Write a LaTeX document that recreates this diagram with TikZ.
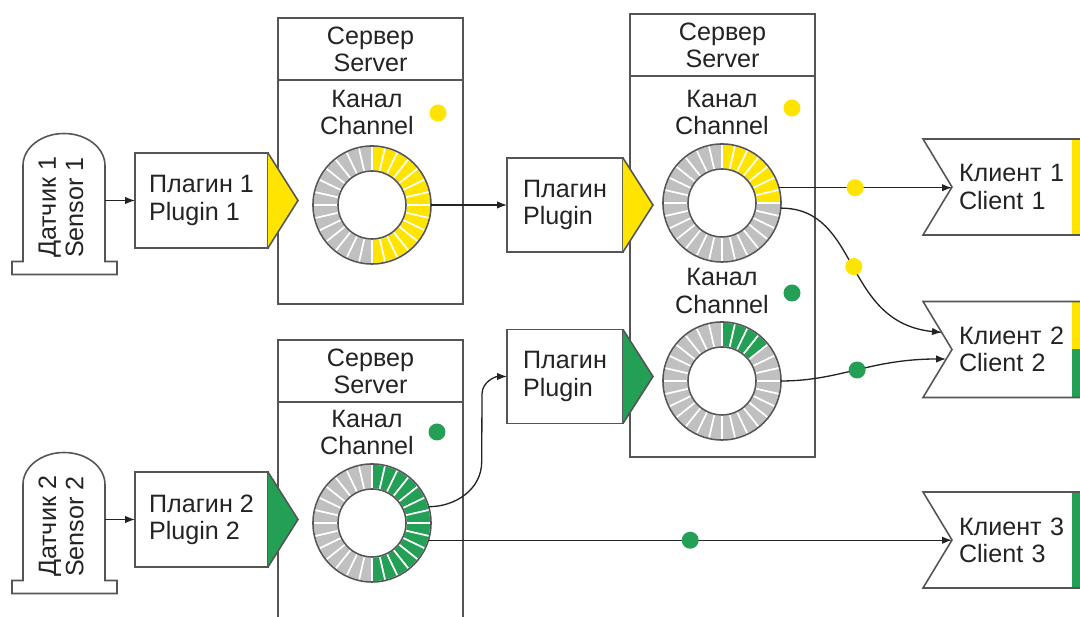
\documentclass[tikz,border=0pt]{standalone}
\usepackage{fontspec}
\setmainfont{Liberation Sans}
\usetikzlibrary{arrows.meta, positioning}

\definecolor{yelw}{RGB}{255,228,0}
\definecolor{grn}{RGB}{35,160,85}
\definecolor{slot}{RGB}{192,192,192}
\definecolor{edge}{RGB}{85,85,85}
\definecolor{ink}{RGB}{35,35,35}

\tikzset{
	outline/.style={draw=edge, line width=0.9pt},
	box/.style={outline, fill=white, rectangle, inner sep=0pt, outer sep=0pt},
	sensor/.style={rectangle, minimum width=1.64cm, minimum height=1.92cm, inner sep=0pt, outer sep=0pt},
	plugin/.style={box, minimum width=2.66cm, minimum height=1.9cm, align=left},
	server/.style={box, minimum width=3.7cm},
	head/.style={box, minimum width=3.7cm, minimum height=1.24cm, align=center},
	chan/.style={align=center, inner sep=0pt},
	ring/.style={circle, minimum size=2.36cm, inner sep=0pt, outer sep=0pt},
	led/.style={circle, inner sep=0pt, minimum size=0.34cm},
	client/.style={rectangle, minimum height=1.92cm, text width=2.68cm, inner xsep=0.14cm, inner ysep=0pt, outer sep=0pt, align=left},
	wire/.style={draw=ink, line width=0.75pt, -{Latex[length=0.2cm, width=0.15cm]}},
}

% ring buffer of 28 slots, the first #2 (clockwise from the top) are filled
\newcommand{\ringbuf}[3]{%
	\foreach \i in {0,...,27} {
		\pgfmathsetmacro{\angA}{90-\i*360/28}
		\pgfmathsetmacro{\angB}{\angA-360/28}
		\ifnum\i<#2 \def\slotcol{#3}\else\def\slotcol{slot}\fi
		\fill[fill=\slotcol, draw=white, line width=0.9pt]
			([shift={(\angA:59)}]#1.center) arc[start angle=\angA, end angle=\angB, radius=59]
			-- ([shift={(\angB:34)}]#1.center) arc[start angle=\angB, end angle=\angA, radius=34] -- cycle;
	}
	\draw[outline] (#1.center) circle[radius=59] (#1.center) circle[radius=34];
}

% tombstone outline round a sensor body
\newcommand{\sensorshape}[1]{%
	\draw[outline] (#1.south west) -- ++(-11,0) -- ++(0,-13) -- ++(105,0) -- ++(0,13) -- (#1.south east)
		-- (#1.north east) arc[start angle=0, end angle=180, x radius=41, y radius=32] -- cycle;
}

% coloured output flag on the right of a plugin
\newcommand{\pluginflag}[2]{%
	\filldraw[outline, fill=#2] (#1.north east) -- ([xshift=0.6cm]#1.east) -- (#1.south east);
}

\begin{document}
\begin{tikzpicture}[x=0.02cm, y=0.02cm, font=\fontsize{14.3}{15.5}\selectfont, text=ink]
	\useasboundingbox (0,0) rectangle (1080,617);
	\clip (0,0) rectangle (1080,617);

	% servers
	\node[server, minimum height=5.72cm] (srv1) at (370.5,456) {};
	\node[server, minimum height=5.94cm] (srv2) at (370.5,128.5) {};
	\node[server, minimum height=8.86cm] (srv3) at (722.5,381.5) {};
	\node[head, below=0pt of srv1.north] (head1) {Сервер\\Server};
	\node[head, below=0pt of srv2.north] (head2) {Сервер\\Server};
	\node[head, below=0pt of srv3.north] (head3) {Сервер\\Server};

	\node[chan] (chan1) at (367,504.5) {Канал\\Channel};
	\node[chan] (chan2) at (367,184.5) {Канал\\Channel};
	\node[chan] (chan3) at (722,504.5) {Канал\\Channel};
	\node[chan] (chan4) at (722,326) {Канал\\Channel};
	\node[led, fill=yelw] (led1) at (438,504) {};
	\node[led, fill=grn] (led2) at (437,185) {};
	\node[led, fill=yelw] (led3) at (792,509) {};
	\node[led, fill=grn] (led4) at (792,324) {};

	\node[ring] (ring1) at (372,412) {};
	\node[ring] (ring2) at (372,94) {};
	\node[ring] (ring3) at (722,414) {};
	\node[ring] (ring4) at (722,236) {};
	\ringbuf{ring1}{14}{yelw}
	\ringbuf{ring2}{14}{grn}
	\ringbuf{ring3}{7}{yelw}
	\ringbuf{ring4}{4}{grn}

	% sensors
	\node[sensor] (sensor1) at (64,403.5) {};
	\node[sensor] (sensor2) at (64,84.5) {};
	\sensorshape{sensor1}
	\sensorshape{sensor2}
	\node[rotate=90, align=left] (stxt1) at ([shift={(-3,6)}]sensor1.center) {Датчик 1\\Sensor 1};
	\node[rotate=90, align=left] (stxt2) at ([shift={(-3,6)}]sensor2.center) {Датчик 2\\Sensor 2};

	% plugins
	\node[plugin] (plugin1) at (201.5,416.5) {Плагин 1\\Plugin 1};
	\node[plugin] (plugin2) at (201.5,97.5) {Плагин 2\\Plugin 2};
	\node[plugin, minimum width=2.32cm, minimum height=1.88cm] (plugin3) at (565,412) {Плагин\\Plugin};
	\node[plugin, minimum width=2.32cm, minimum height=1.88cm] (plugin4) at (565,240.5) {Плагин\\Plugin};
	\pluginflag{plugin1}{yelw}
	\pluginflag{plugin2}{grn}
	\pluginflag{plugin3}{yelw}
	\pluginflag{plugin4}{grn}

	% clients
	\node[client] (client1) at (1026,430) {Клиент 1\\Client 1};
	\node[client] (client2) at (1026,267.5) {Клиент 2\\Client 2};
	\node[client] (client3) at (1026,77) {Клиент 3\\Client 3};
	\fill[yelw] ([xshift=-0.56cm]client1.north east) rectangle (client1.south east);
	\fill[yelw] ([xshift=-0.56cm]client2.north east) rectangle (client2.east);
	\fill[grn] ([xshift=-0.56cm]client2.east) rectangle (client2.south east);
	\fill[grn] ([xshift=-0.56cm]client3.north east) rectangle (client3.south east);
	\foreach \cl in {client1, client2, client3}
		\draw[outline] (\cl.west) -- ([xshift=-0.58cm]\cl.north west) -- (\cl.north east)
			-- (\cl.south east) -- ([xshift=-0.58cm]\cl.south west) -- cycle;

	% data flow
	\draw[wire] (sensor1.east |- plugin1.west) -- (plugin1.west);
	\draw[wire] (sensor2.east |- plugin2.west) -- (plugin2.west);
	\draw[wire] (ring1.0) -- (ring1.0 -| plugin3.west);
	\draw[wire] (ring2.16) to[out=0, in=-90] ++(53,45) -- ([xshift=-0.5cm, yshift=-0.35cm]plugin4.west)
		to[out=90, in=180] (plugin4.west);
	\draw[wire] (ring2.-17) -- node[led, fill=grn, pos=0.5] (led5) {} (ring2.-17 -| client3.west);
	\draw[wire] (ring3.15) -- node[led, fill=yelw, pos=0.44] (led6) {} (ring3.15 -| client1.west);
	\draw[wire] (ring3.-5) .. controls +(80,0) and +(-100,10) .. node[led, fill=yelw] (led7) {} ([shift={(-10,17)}]client2.west);
	\draw[wire] (ring4.0) .. controls +(59,0) and +(-76,0) .. node[led, fill=grn] (led8) {} ([shift={(-6,-9.5)}]client2.west);

\end{tikzpicture}
\end{document}
